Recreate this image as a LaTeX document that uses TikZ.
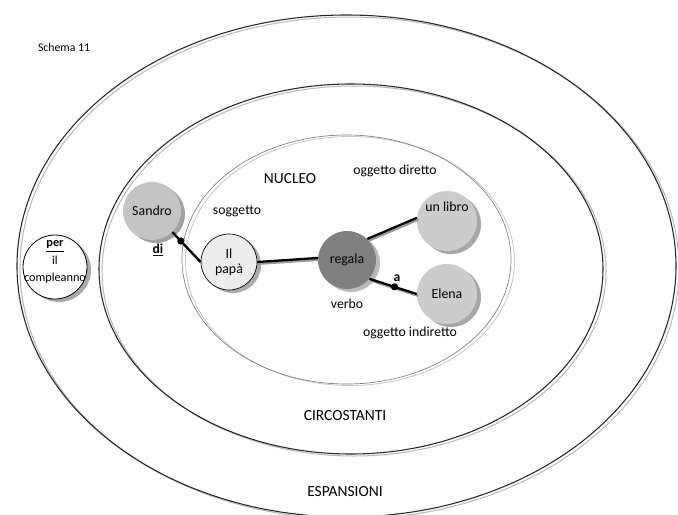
\documentclass[tikz,border=0pt]{standalone}
\usepackage{fontspec}
\setmainfont{Carlito}
\usetikzlibrary{shadows}

\tikzset{
  ring/.style={draw=black!85, line width=0.8pt},
  ringshade/.style={draw=black!28, line width=0.75pt},
  core/.style={draw=black!50, line width=0.5pt},
  coreshade/.style={draw=black!22, line width=0.6pt},
  bubble/.style={circle, inner sep=0pt, minimum size=#1, align=center,
    font=\fontsize{10.4}{11.3}\selectfont},
  shade/.style={drop shadow={shadow xshift=3pt, shadow yshift=-2.3pt,
    opacity=1, fill=#1}},
  lbl/.style={font=\fontsize{10.3}{12}\selectfont, inner sep=0pt},
  title/.style={font=\fontsize{11.6}{13}\selectfont, inner sep=0pt},
  prep/.style={font=\fontsize{10.2}{12}\selectfont\bfseries, inner sep=0pt},
  link/.style={draw=black, line width=1.7pt},
  linkshade/.style={draw=black!40, line width=1.6pt,
    transform canvas={shift={(1pt,-1.4pt)}}},
  joint/.style={fill=black}
}

\begin{document}
\begin{tikzpicture}[x=0.75pt, y=-0.75pt]
\useasboundingbox (0,0) rectangle (678,514);
\clip (0,0) rectangle (678,514);
\fill[white] (0,0) rectangle (678,514);

% concentric rings: expansions, circumstances, nucleus
\draw[ringshade] (349.5,268) ellipse [x radius=329.5, y radius=251];
\draw[ring] (346.5,266) ellipse [x radius=329.5, y radius=251];
\draw[ringshade] (354,271) ellipse [x radius=252, y radius=185];
\draw[ring] (351,269) ellipse [x radius=252, y radius=185];
\draw[coreshade] (350,261) ellipse [x radius=164.5, y radius=124.5];
\draw[core] (346.5,259.5) ellipse [x radius=164.5, y radius=124.5];

% ring titles and role labels
\node[font=\fontsize{8.8}{10}\selectfont, inner sep=0pt] (schema) at (64,47) {Schema 11};
\node[title] (nucleo) at (290,179) {NUCLEO};
\node[title] (circ) at (345,416) {CIRCOSTANTI};
\node[title] (esp) at (345,492) {ESPANSIONI};
\node[lbl] (od) at (395,171) {oggetto diretto};
\node[lbl] (sog) at (237,211) {soggetto};
\node[lbl] (verbo) at (347,304) {verbo};
\node[lbl] (oi) at (410,333) {oggetto indiretto};

% word bubbles
\node[bubble=43.5pt, fill=black!23, shade=black!37] (sandro) at (152,211) {Sandro};
\node[bubble=42pt, fill=black!7, draw=black, line width=0.5pt, shade=black!33] (papa) at (229,262) {Il\\pap\`a};
\node[bubble=43.5pt, fill=black!50, shade=black!27] (regala) at (347,260) {regala};
\node[bubble=45pt, fill=black!20, shade=black!35] (libro) at (447,221) {};
\node[bubble=45pt, fill=black!20, shade=black!35] (elena) at (447,294) {Elena};
\node[bubble=48pt, fill=white, draw=black, line width=0.6pt, shade=black!33] (per) at (55,267) {};
\node[font=\fontsize{10.4}{12}\selectfont, inner sep=0pt] (librotext) at (447,207) {un libro};
\node[font=\fontsize{9.2}{12.8}\selectfont, align=center, inner sep=0pt] (pertext) at (55,262)
  {\underline{\textbf{per}}\\il\\compleanno};

% connectors (shadow first, then the black stroke)
\path[linkshade] (sandro.-46) -- (papa.180);
\path[linkshade] (papa.east) -- (regala.176);
\path[linkshade] (regala.46) -- (libro.174);
\path[linkshade] (regala.-40) -- (elena.180);
\path[link] (sandro.-46) -- (papa.180) coordinate[pos=0.3] (jdi);
\path[link] (papa.east) -- (regala.176);
\path[link] (regala.46) -- (libro.174);
\path[link] (regala.-40) -- (elena.180) coordinate[pos=0.53] (ja);
\fill[joint] (jdi) circle (3.6);
\fill[joint] (ja) circle (3.6);

% prepositions on the links
\node[prep] (di) at (158,250) {\underline{di}};
\node[prep] (a) at (397,278) {a};
\end{tikzpicture}
\end{document}
